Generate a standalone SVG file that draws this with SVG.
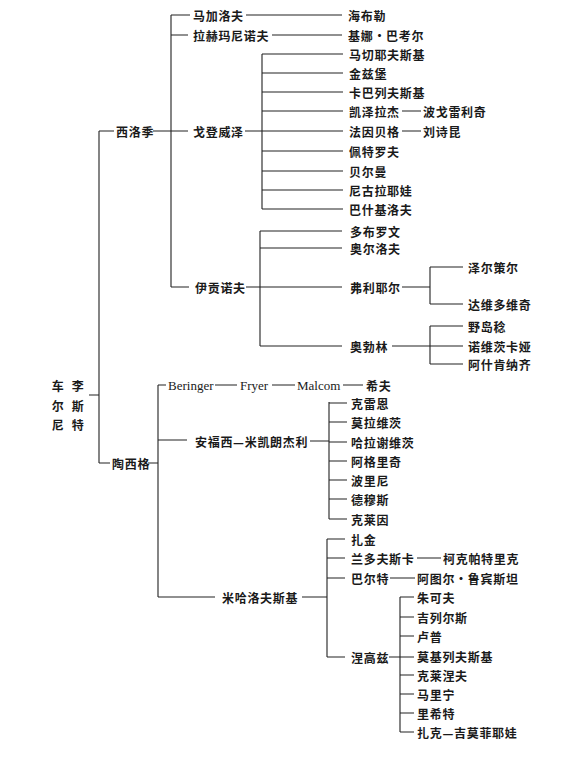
<svg xmlns="http://www.w3.org/2000/svg" width="574" height="764" viewBox="0 0 574 764">
<style>
.t{font-family:"Noto Sans CJK SC","Noto Sans",sans-serif;font-size:12px;font-weight:bold;fill:#1a1a1a;dominant-baseline:central;letter-spacing:0.7px}
.l{font-family:"Liberation Serif",serif;font-size:13px;fill:#1a1a1a;dominant-baseline:central}
.c path{fill:none;stroke:#222;stroke-width:1.1}
</style>
<rect width="574" height="764" fill="#fff"/>
<g class="c" id="connectors">
<path d="M99,131V463M99,131H114M99,463H110M89,395H99"/>
<path d="M153,131H188M171,15V287M171,15H190M171,35H188M171,287H189M246,15H342M272,35H342"/>
<path d="M245,131H262M262,54V209M262,54H343M262,73H343M262,92H343M262,111H343M262,131H343M262,151H343M262,171H343M262,190H343M262,209H343M402,111H421M402,131H421"/>
<path d="M246,287H260M260,231V346M260,231H342M260,248H342M260,287H342M260,346H342M402,287H430M430,267V304M430,267H463M430,304H463M392,346H463M430,326V364M430,326H463M430,364H463"/>
<path d="M148,463H158M158,385V597M158,385H166M215,385H237M272,385H295M343,385H363"/>
<path d="M158,440H187M310,441H329M329,402V519M329,403H347M329,422H347M329,442H347M329,461H347M329,480H347M329,499H347M329,519H347"/>
<path d="M158,597H215M302,597H327M327,539V657M327,539H345M327,558H345M327,578H345M327,657H345M417,558H441M390,578H415"/>
<path d="M389,657H414M400,597V732M400,597H414M400,617H414M400,636H414M400,675H414M400,694H414M400,713H414M400,732H414"/>
</g>
<g id="czerny-liszt">
<text class="t" x="58" y="385" text-anchor="middle">车</text>
<text class="t" x="58" y="405" text-anchor="middle">尔</text>
<text class="t" x="58" y="424" text-anchor="middle">尼</text>
<text class="t" x="78" y="385" text-anchor="middle">李</text>
<text class="t" x="78" y="405" text-anchor="middle">斯</text>
<text class="t" x="78" y="424" text-anchor="middle">特</text>
</g>
<g id="siloti"><text class="t" x="116" y="131">西洛季</text></g>
<g id="magaloff"><text class="t" x="193" y="15">马加洛夫</text></g>
<g id="haebler"><text class="t" x="348" y="15">海布勒</text></g>
<g id="rachmaninoff"><text class="t" x="193" y="35">拉赫玛尼诺夫</text></g>
<g id="bachauer"><text class="t" x="348" y="35">基娜·巴考尔</text></g>
<g id="goldenweiser"><text class="t" x="193" y="131">戈登威泽</text></g>
<g id="g1"><text class="t" x="349" y="54">马切耶夫斯基</text></g>
<g id="g2"><text class="t" x="349" y="73">金兹堡</text></g>
<g id="g3"><text class="t" x="349" y="92">卡巴列夫斯基</text></g>
<g id="g4"><text class="t" x="349" y="111">凯泽拉杰</text></g>
<g id="pogorelich"><text class="t" x="423" y="111">波戈雷利奇</text></g>
<g id="g5"><text class="t" x="349" y="131">法因贝格</text></g>
<g id="liushikun"><text class="t" x="423" y="131">刘诗昆</text></g>
<g id="g6"><text class="t" x="349" y="151">佩特罗夫</text></g>
<g id="g7"><text class="t" x="349" y="171">贝尔曼</text></g>
<g id="g8"><text class="t" x="349" y="190">尼古拉耶娃</text></g>
<g id="g9"><text class="t" x="349" y="209">巴什基洛夫</text></g>
<g id="igumnov"><text class="t" x="195" y="287">伊贡诺夫</text></g>
<g id="i1"><text class="t" x="350" y="231">多布罗文</text></g>
<g id="i2"><text class="t" x="350" y="248">奥尔洛夫</text></g>
<g id="flier"><text class="t" x="350" y="287">弗利耶尔</text></g>
<g id="f1"><text class="t" x="468" y="267">泽尔策尔</text></g>
<g id="f2"><text class="t" x="468" y="304">达维多维奇</text></g>
<g id="oborin"><text class="t" x="350" y="346">奥勃林</text></g>
<g id="o1"><text class="t" x="468" y="326">野岛稔</text></g>
<g id="o2"><text class="t" x="468" y="346">诺维茨卡娅</text></g>
<g id="o3"><text class="t" x="468" y="364">阿什肯纳齐</text></g>
<g id="tausig"><text class="t" x="112" y="463">陶西格</text></g>
<g id="beringer"><text class="l" x="168" y="385">Beringer</text></g>
<g id="fryer"><text class="l" x="240" y="385">Fryer</text></g>
<g id="malcom"><text class="l" x="297" y="385">Malcom</text></g>
<g id="schiff"><text class="t" x="366" y="385">希夫</text></g>
<g id="michelangeli"><text class="t" x="195" y="441">安福西—米凯朗杰利</text></g>
<g id="m1"><text class="t" x="351" y="403">克雷恩</text></g>
<g id="m2"><text class="t" x="351" y="422">莫拉维茨</text></g>
<g id="m3"><text class="t" x="351" y="442">哈拉谢维茨</text></g>
<g id="m4"><text class="t" x="351" y="461">阿格里奇</text></g>
<g id="m5"><text class="t" x="351" y="480">波里尼</text></g>
<g id="m6"><text class="t" x="351" y="499">德穆斯</text></g>
<g id="m7"><text class="t" x="351" y="519">克莱因</text></g>
<g id="michalowski"><text class="t" x="222" y="597">米哈洛夫斯基</text></g>
<g id="k1"><text class="t" x="351" y="539">扎金</text></g>
<g id="landowska"><text class="t" x="351" y="558">兰多夫斯卡</text></g>
<g id="kirkpatrick"><text class="t" x="443" y="558">柯克帕特里克</text></g>
<g id="barth"><text class="t" x="351" y="578">巴尔特</text></g>
<g id="rubinstein"><text class="t" x="417" y="578">阿图尔·鲁宾斯坦</text></g>
<g id="neuhaus"><text class="t" x="351" y="657">涅高兹</text></g>
<g id="n1"><text class="t" x="417" y="597">朱可夫</text></g>
<g id="n2"><text class="t" x="417" y="617">吉列尔斯</text></g>
<g id="n3"><text class="t" x="417" y="636">卢普</text></g>
<g id="n4"><text class="t" x="417" y="656">莫基列夫斯基</text></g>
<g id="n5"><text class="t" x="417" y="675">克莱涅夫</text></g>
<g id="n6"><text class="t" x="417" y="694">马里宁</text></g>
<g id="n7"><text class="t" x="417" y="713">里希特</text></g>
<g id="n8"><text class="t" x="417" y="732">扎克—吉莫菲耶娃</text></g>
</svg>
